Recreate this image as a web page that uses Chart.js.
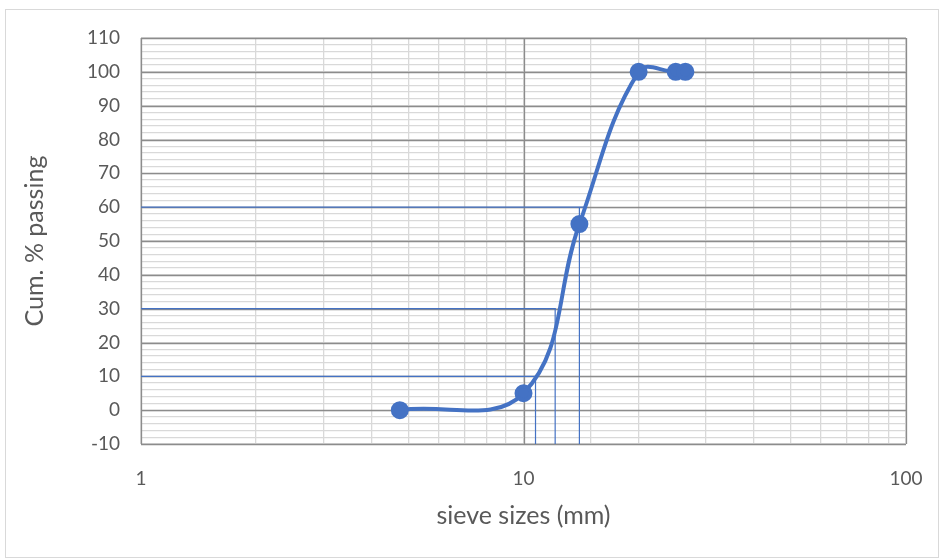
<!DOCTYPE html>
<html>
<head>
<meta charset="utf-8">
<script src="https://cdn.jsdelivr.net/npm/chart.js@4"></script>
<style>
  html, body { margin: 0; padding: 0; background: #fff; }
  #wrap { width: 940px; height: 559px; position: relative; }
</style>
</head>
<body>
<div id="wrap"><canvas id="gradChart" width="940" height="559"></canvas></div>
<script>
// sieve analysis data
const sieveSizes = [4.75, 10, 14, 20, 25, 26.5];
const cumPassing = [0, 5, 55, 100, 100, 100];

// D10 / D30 / D60 guide lines
const guideLevels = [10, 30, 60];
const guideEndX = [10.75, 12.15, 14.4];   // where the horizontal line stops
const guideDropX = [10.75, 12.1, 14.0];   // where the vertical line drops

const xTickLabels = [1, 10, 100];
const yMajorTicks = [-10, 0, 10, 20, 30, 40, 50, 60, 70, 80, 90, 100, 110];

const blue = '#4472C4';
const majorGrid = '#8c8c8c';
const minorGrid = '#d9d9d9';
const textGray = '#595959';
const fontFam = 'Lato, "Open Sans", sans-serif';

const datasets = [];

// guide lines first so the curve sits on top
guideLevels.forEach((lvl, i) => {
	datasets.push({
		data: [{ x: 1, y: lvl }, { x: guideEndX[i], y: lvl }],
		borderColor: blue, borderWidth: 1.2, pointRadius: 0, tension: 0, order: 2
	});
	datasets.push({
		data: [{ x: guideDropX[i], y: lvl }, { x: guideDropX[i], y: -10 }],
		borderColor: blue, borderWidth: 1.2, pointRadius: 0, tension: 0, order: 2
	});
});

datasets.push({
	label: 'Cum. % passing',
	data: sieveSizes.map((s, i) => ({ x: s, y: cumPassing[i] })),
	borderColor: blue,
	backgroundColor: blue,
	borderWidth: 4,
	pointRadius: 7,
	pointBackgroundColor: blue,
	pointBorderColor: blue,
	tension: 0.4,
	order: 1
});

// outer frame + major gridlines redrawn over the minor ones
const framePlugin = {
	id: 'frame',
	beforeDraw(chart) {
		const c = chart.ctx;
		c.save();
		c.fillStyle = '#fff';
		c.fillRect(0, 0, chart.width, chart.height);
		c.strokeStyle = '#d9d9d9';
		c.lineWidth = 1;
		c.strokeRect(5.5, 9.5, 933, 548);
		c.restore();
	},
	beforeDatasetsDraw(chart) {
		const c = chart.ctx;
		const a = chart.chartArea;
		const xs = chart.scales.x, ys = chart.scales.y;
		c.save();
		c.strokeStyle = majorGrid;
		c.lineWidth = 1.3;
		c.beginPath();
		yMajorTicks.forEach(v => {
			const py = Math.round(ys.getPixelForValue(v)) + 0.5;
			c.moveTo(a.left, py); c.lineTo(a.right, py);
		});
		xTickLabels.forEach(v => {
			const px = Math.round(xs.getPixelForValue(v)) + 0.5;
			c.moveTo(px, a.top); c.lineTo(px, a.bottom);
		});
		c.stroke();
		c.restore();
	}
};

new Chart(document.getElementById('gradChart').getContext('2d'), {
	type: 'line',
	data: { datasets: datasets },
	plugins: [framePlugin],
	options: {
		responsive: false,
		animation: false,
		layout: { padding: { left: 16, top: 38, right: 34, bottom: 24 } },
		plugins: {
			legend: { display: false },
			tooltip: { enabled: false }
		},
		scales: {
			x: {
				type: 'logarithmic',
				min: 1,
				max: 100,
				afterFit: (scale) => {
					scale.height = 91;
					scale.paddingLeft = 0;
					scale.paddingRight = 0;
				},
				border: { display: false },
				grid: {
					drawTicks: false,
					tickLength: 0,
					lineWidth: 1.3,
					color: minorGrid
				},
				ticks: {
					autoSkip: false,
					maxRotation: 0,
					padding: 23,
					color: textGray,
					font: { family: fontFam, size: 19 },
					callback: (v) => xTickLabels.includes(v) ? String(v) : ''
				},
				title: {
					display: true,
					text: 'sieve sizes (mm)',
					color: textGray,
					font: { family: fontFam, size: 25 }
				}
			},
			y: {
				min: -10,
				max: 110,
				afterFit: (scale) => {
					scale.width = 125;
					scale.paddingTop = 0;
					scale.paddingBottom = 0;
				},
				border: { display: false },
				grid: {
					drawTicks: false,
					tickLength: 0,
					lineWidth: 1.3,
					color: minorGrid
				},
				ticks: {
					stepSize: 2,
					autoSkip: false,
					padding: 21,
					color: textGray,
					font: { family: fontFam, size: 19 },
					callback: (v) => Math.round(v) % 10 === 0 ? String(v) : ''
				},
				title: {
					display: true,
					text: 'Cum. % passing',
					color: textGray,
					font: { family: fontFam, size: 25 }
				}
			}
		}
	}
});
</script>
</body>
</html>
